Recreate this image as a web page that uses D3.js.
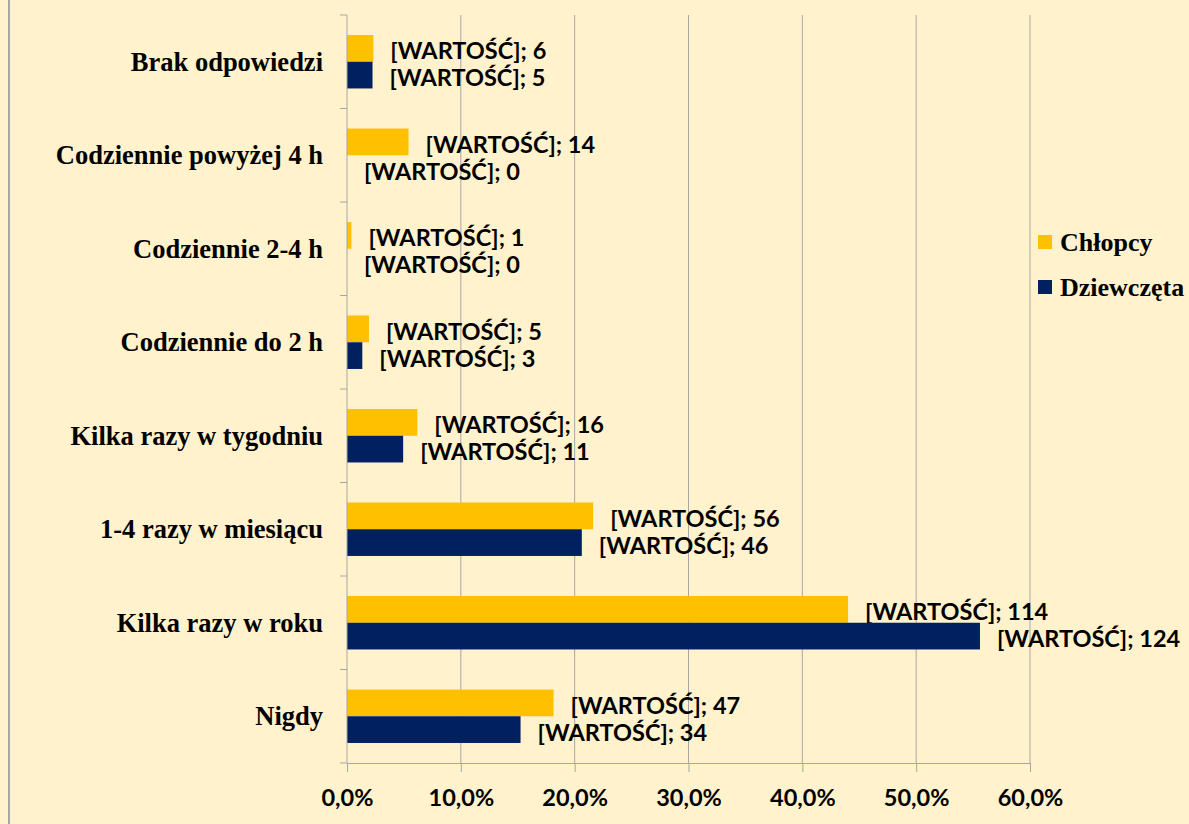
<!DOCTYPE html>
<html>
<head>
<meta charset="utf-8">
<script src="https://cdn.jsdelivr.net/npm/d3@7"></script>
<style>
  body { margin: 0; background: #FFF2CC; }
  svg { display: block; }
</style>
</head>
<body>
<div id="chart"></div>
<script>
// categories top to bottom, as in the picture
var categories = ["Brak odpowiedzi", "Codziennie powyżej 4 h", "Codziennie 2-4 h",
  "Codziennie do 2 h", "Kilka razy w tygodniu", "1-4 razy w miesiącu",
  "Kilka razy w roku", "Nigdy"];
var seriesNames = ["Chłopcy", "Dziewczęta"];
var seriesColors = ["#FFC000", "#002060"];
// counts shown in the labels
var chlopcy = [6, 14, 1, 5, 16, 56, 114, 47];
var dziewczeta = [5, 0, 0, 3, 11, 46, 124, 34];
var xTicks = [0, 0.1, 0.2, 0.3, 0.4, 0.5, 0.6];

var width = 1189, height = 824;
var margin = {left: 347, top: 15, right: 159, bottom: 61};

var svg = d3.select("#chart").append("svg")
  .attr("width", width)
  .attr("height", height);

svg.append("rect")
  .attr("width", width).attr("height", height)
  .style("fill", "#FFF2CC");
// left edge of the frame
svg.append("line")
  .attr("x1", 9).attr("x2", 9).attr("y1", 0).attr("y2", height)
  .style("stroke", "#A6A6A6").style("stroke-width", 2);

var series = [chlopcy, dziewczeta];
var totals = series.map(function(s) { return d3.sum(s); });

var x = d3.scaleLinear().domain([0, 0.6]).range([margin.left, width - margin.right]);
var y = d3.scaleBand().domain(categories).range([margin.top, height - margin.bottom])
  .paddingInner(0.4286).paddingOuter(0.2143);
var inner = d3.scaleBand().domain([0, 1]).range([0, y.bandwidth()]);

var labelFont = "Lato, 'Open Sans', sans-serif";
var serifFont = "'Liberation Serif', 'Times New Roman', serif";

// gridlines
svg.selectAll(".grid")
  .data(xTicks.slice(1))
  .enter().append("line")
    .attr("class", "grid")
    .attr("x1", function(d) { return x(d); }).attr("x2", function(d) { return x(d); })
    .attr("y1", margin.top).attr("y2", height - margin.bottom)
    .style("stroke", "#A6A6A6").style("stroke-width", 1);

// bars
series.forEach(function(s, si) {
  svg.selectAll(".bar" + si)
    .data(s)
    .enter().append("rect")
      .attr("class", "bar" + si)
      .attr("x", x(0))
      .attr("y", function(d, i) { return y(categories[i]) + inner(si); })
      .attr("width", function(d) { return x(d / totals[si]) - x(0); })
      .attr("height", inner.bandwidth())
      .style("fill", seriesColors[si]);

  svg.selectAll(".lab" + si)
    .data(s)
    .enter().append("text")
      .attr("class", "lab" + si)
      .attr("x", function(d) { return x(d / totals[si]) + 17; })
      .attr("y", function(d, i) { return y(categories[i]) + inner(si) + inner.bandwidth() / 2 + 2; })
      .attr("dominant-baseline", "central")
      .style("font-family", labelFont)
      .style("font-weight", 700)
      .style("font-size", "23.5px")
      .style("fill", "#000")
      .text(function(d) { return "[WARTOŚĆ]; " + d; });
});

// y axis
var yAxisG = svg.append("g").attr("transform", "translate(" + x(0) + ",0)");
yAxisG.append("line")
  .attr("x1", 0).attr("x2", 0).attr("y1", margin.top).attr("y2", height - margin.bottom)
  .style("stroke", "#A6A6A6");
var bounds = d3.range(categories.length + 1).map(function(i) {
  return margin.top + i * y.step();
});
yAxisG.selectAll(".ytick")
  .data(bounds)
  .enter().append("line")
    .attr("x1", -7).attr("x2", 0)
    .attr("y1", function(d) { return d; }).attr("y2", function(d) { return d; })
    .style("stroke", "#A6A6A6");
yAxisG.selectAll(".ylab")
  .data(categories)
  .enter().append("text")
    .attr("x", -24)
    .attr("y", function(d) { return y(d) + y.bandwidth() / 2; })
    .attr("dominant-baseline", "central")
    .attr("text-anchor", "end")
    .style("font-family", serifFont)
    .style("font-weight", 700)
    .style("font-size", "26.5px")
    .text(function(d) { return d; });

// x axis
var xAxis = d3.axisBottom(x)
  .tickValues(xTicks)
  .tickSize(9)
  .tickFormat(function(d) { return d3.format(".1f")(d * 100).replace(".", ",") + "%"; });
var xAxisG = svg.append("g")
  .attr("transform", "translate(0," + (height - margin.bottom) + ")")
  .call(xAxis);
xAxisG.select(".domain").style("stroke", "#A6A6A6");
xAxisG.selectAll(".tick line").style("stroke", "#A6A6A6");
xAxisG.selectAll(".tick text")
  .attr("y", 43)
  .attr("dy", 0)
  .style("font-family", labelFont)
  .style("font-weight", 700)
  .style("font-size", "23.5px")
  .style("fill", "#000");

// legend
var legend = svg.selectAll(".legend")
  .data(seriesNames)
  .enter().append("g")
    .attr("class", "legend")
    .attr("transform", function(d, i) { return "translate(1038," + (235 + i * 45) + ")"; });
legend.append("rect")
  .attr("width", 14).attr("height", 14)
  .style("fill", function(d, i) { return seriesColors[i]; });
legend.append("text")
  .attr("x", 22).attr("y", 7)
  .attr("dominant-baseline", "central")
  .style("font-family", serifFont)
  .style("font-weight", 700)
  .style("font-size", "26px")
  .text(function(d) { return d; });
</script>
</body>
</html>
